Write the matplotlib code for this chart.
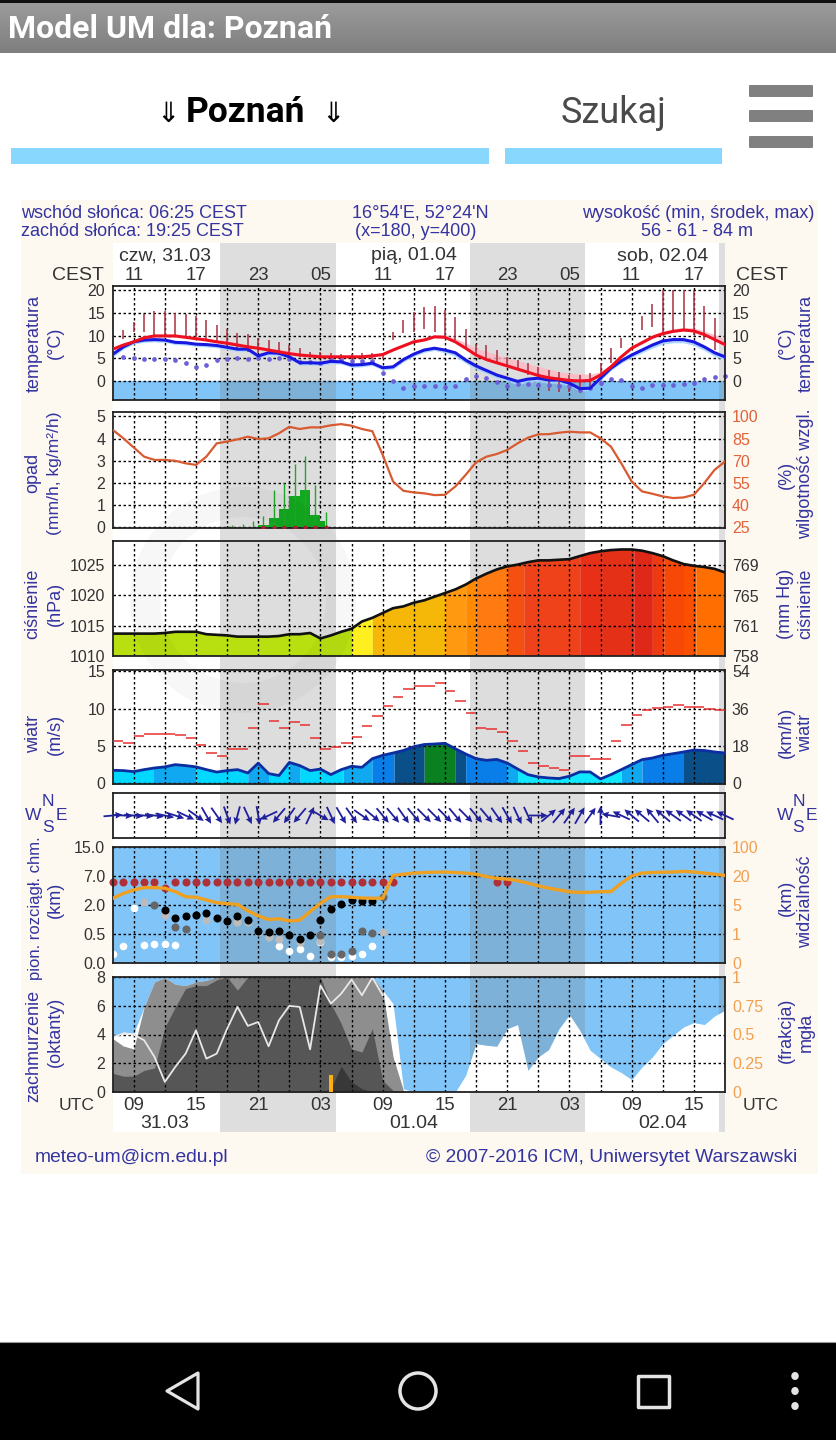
import numpy as np
import matplotlib
matplotlib.use('Agg')
import matplotlib.pyplot as plt
from matplotlib.patches import Rectangle, Polygon, Ellipse, FancyBboxPatch, Wedge

plt.rcParams['font.family'] = ['Liberation Sans', 'DejaVu Sans']

# godziny od 31.03 00 UTC
hours = np.arange(7, 67)
band_start = [17.3, 41.4, 65.4]
band_end = [28.5, 52.5, 66.0]
grid_hours = np.arange(9, 67, 3)
tick_hours = np.arange(9, 64, 6)
cest_labels = ['11', '17', '23', '05', '11', '17', '23', '05', '11', '17']
utc_labels = ['09', '15', '21', '03', '09', '15', '21', '03', '09', '15']
day_hours = [12, 36, 60]
top_days = ['czw, 31.03', 'pią, 01.04', 'sob, 02.04']
bottom_days = ['31.03', '01.04', '02.04']

# temperatura
temp_red = [7, 7.9, 8.6, 9.5, 9.9, 9.9, 9.9, 9.6, 9.3, 9.0, 8.6, 8.3, 7.9, 7.5, 7.2, 6.8, 6.4, 6.0, 5.7, 5.5,
            5.3, 5.3, 5.3, 5.3, 5.3, 5.5, 5.8, 6.8, 7.7, 8.6, 9, 9.7, 9.6, 8.6, 7.2, 5.7, 4.7, 4.0, 3.3, 2.6,
            1.9, 1.2, .7, .4, .1, 0, .1, 1.3, 3.1, 5.3, 7.2, 8.4, 9.6, 10.4, 10.9, 11.2, 11, 10.2, 9.1, 8]
temp_red_hi = [7.4, 8.3, 9.0, 9.9, 10.3, 10.3, 10.3, 10, 9.7, 9.4, 9.0, 8.8, 8.4, 8, 7.7, 7.3, 7, 6.6, 6.2, 6,
               5.8, 5.8, 5.8, 5.8, 5.8, 6, 6.3, 7.3, 8.2, 9.1, 9.5, 10.2, 10.2, 9.4, 8.4, 7.2, 6.5, 5.8, 5.1, 4.5,
               3.8, 3.2, 2.6, 2, 1.7, 1.6, 1.5, 2, 3.6, 5.8, 7.7, 9, 10.2, 11, 11.5, 11.8, 11.7, 11, 10.2, 9.2]
temp_blue = [5.9, 7.5, 8.6, 9, 9.1, 9, 8.5, 8.4, 8.1, 8, 7.8, 7.4, 7, 7, 5.5, 6.2, 6.1, 5.3, 4, 4,
             3.9, 4.3, 4.2, 3.5, 3.6, 3.9, 2.9, 3.1, 4.7, 5.9, 6.8, 7.2, 6.8, 6.2, 4.6, 3.3, 2.3, 1.3, .6, -.1,
             .4, .6, .2, .2, -.5, -1.7, -1.6, .6, 2.8, 4.4, 5.7, 6.8, 7.9, 8.8, 9.1, 9.1, 8.6, 7.5, 6.2, 5.3]
temp_blue_lo = [5.3, 7, 8.1, 8.5, 8.6, 8.5, 8, 7.9, 7.6, 7.5, 7.3, 6.9, 6.5, 6.5, 5, 5.7, 5.6, 4.8, 3.5, 3.5,
                3.4, 3.8, 3.7, 3, 3.1, 3.4, 2.4, 2.6, 4.2, 5.4, 6.3, 6.7, 6.2, 5.4, 3.9, 2.6, 1.6, .6, -.1, -.8,
                -.3, -.2, -.5, -.5, -1.1, -2.2, -2.1, .1, 2.3, 3.9, 5.2, 6.2, 7.2, 8.1, 8.4, 8.4, 7.8, 6.7, 5.4, 4.6]
stick_hi = [np.nan, 11.2, 13.0, 14.8, 15.3, 15.3, 15.0, 14.8, 14.2, 13.4, 12.3, 11.5, 10.6, 10.3, 9.4, 9.0, 8.6, 7.9, 7.2, 6.4,
            6.4, 6.1, 5.9, 5.9, 6.2, 6.2, 5.7, 10.8, 13.4, 15.2, 16.3, 16.6, 15.7, 14.1, 11.5, 8.2, 7.9, 6.8, 5.3, 4.6,
            3.9, 3.1, 2.3, 2.0, 1.3, 1.3, 1.7, 3.9, 7.2, 9.4, np.nan, 14.4, 17, 20, 20.1, 20.1, 19.9, 16.5, 13.8, np.nan]
stick_lo = [np.nan, 9.3, 10.8, 10.8, 9.7, 9.7, 9.7, 9.7, 9.7, 9, 8.6, 7.5, 6.8, 6.4, 6.1, 6.1, 5.7, 5.5, 5.3, 5.3,
            5.3, 5.3, 5.3, 4.8, 4.8, 4.8, 4.8, 9, 10.5, 10.8, 11.4, 10.8, 10, 9, 7, 5.4, 4.6, 3.9, 3.1, 2.4,
            1.3, .6, -2.3, -2.5, -2.5, -2.7, -2, 1.7, 3.9, 7.2, np.nan, 11.2, 11.9, 10.4, 11.2, 11.2, 10.2, 9.1, 6.8, np.nan]
temp_dots = [np.nan, 5.3, 5.1, 4.9, 4.9, 4.9, 4.7, 3.9, 3.1, 3.4, 4.7, 4.9, 5.1, 4.9, 5.1, 4.9, 5.1, 4.9, 4.2, 4.2,
             3.9, 4.5, 4.7, 4.3, 4.3, 4.4, 1.7, -.1, -1.6, -1.1, -1.1, -1.1, -1.4, -1.1, .4, 1.1, .7, -.2, -1.1, -.7,
             -.7, -.9, -.9, -1.2, -1.2, -2, -1.6, -.5, .4, .2, -1.2, -1.6, -.9, -.9, -.9, -.7, -.4, .4, .9, 1.1]
temp_ticks = [0, 5, 10, 15, 20]

# opad i wilgotnosc
rain_hours = [21, 22, 23, 24, 25, 26, 27]
rain_bars = [.12, .42, .82, 1.42, 1.7, .57, .27]
rain_widths = [1, 1, 1, 1, 1, 1, .4]
rain_stick_hours = [18, 19, 20, 21, 22, 23, 24, 25, 26, 27]
rain_sticks = [.1, .15, .3, .5, 1.7, 2.0, 2.85, 3.2, 1.9, .7]
humidity = [90.8, 85.2, 79, 72.8, 70.6, 70.6, 70, 68.3, 67.2, 72.8, 81.8, 83, 84.5, 86.3, 84.7, 85.2, 88.6, 93, 91.5, 92.6,
            92.6, 94, 94.8, 93.7, 91.5, 90, 74, 56, 49.7, 48.6, 48, 46.8, 47, 52.6, 60.5, 69, 72.8, 74.6, 77.3, 81.8,
            85.6, 87.9, 88, 89, 89.7, 89.2, 89.2, 85.2, 79.6, 68.3, 56, 49.3, 47.7, 45.9, 44.8, 45.2, 47, 54.9, 63.9, 69.5]

# cisnienie
pressure = [1013.7, 1013.7, 1013.7, 1013.7, 1013.7, 1013.8, 1014, 1014, 1014, 1013.6, 1013.5, 1013.4, 1013.2, 1013.2, 1013.2,
            1013.2, 1013.3, 1013.6, 1013.6, 1013.8, 1012.9, 1013.4, 1014, 1014.5, 1015.7, 1016.3, 1017.1, 1017.9, 1018.2, 1018.8,
            1019.2, 1019.8, 1020.4, 1021, 1021.8, 1022.8, 1023.6, 1024.3, 1024.8, 1025.1, 1025.5, 1025.8, 1025.8, 1025.9, 1026,
            1026.5, 1027, 1027.3, 1027.5, 1027.6, 1027.6, 1027.4, 1027, 1026.5, 1025.8, 1025.2, 1024.9, 1024.7, 1024.4, 1023.8]
pressure_breaks = [7, 30, 32, 39, 41, 42, 45, 46.6, 52, 54.1, 57.2, 59, 60.1, 62, 63.2, 66]
pressure_colors = ['#b8e010', '#ffee20', '#f6b808', '#ff9a10', '#ff8a00', '#ff7a10', '#f55010', '#f0421a',
                   '#e83018', '#e53018', '#e02818', '#ee3a10', '#f84808', '#fa5000', '#ff6e00']
hg_ticks = [757.6, 761.3, 765, 768.8]
hg_labels = ['758', '761', '765', '769']

# wiatr
wind = [1.74, 1.7, 1.56, 1.83, 2.05, 2.2, 2.5, 2.37, 2.2, 1.83, 1.5, 1.7, 1.83, 1.38, 2.7, 1.3, 1.03, 2.8, 2.37, 1.7,
        1.9, 1.16, 1.83, 2.28, 2.14, 3.3, 3.75, 4.06, 4.4, 4.9, 5.2, 5.27, 5.36, 4.64, 3.93, 3.3, 3.08, 3.2, 2.72, 1.92,
        1.16, .85, .71, .63, .94, 1.52, 1.52, .58, 1.16, 1.83, 2.5, 3.17, 3.39, 3.75, 3.97, 4.2, 4.46, 4.4, 4.2, 4.06]
gust = [5.67, 5.45, 6.38, 6.6, 6.65, 6.65, 6.47, 6.07, 5.2, 4.06, 3.66, 4.64, 4.64, 7.4, 10.6, 8.4, 7.4, 8.2, 7.8, 6.07,
        4.64, 4.82, 5.45, 6.25, 7.63, 8.97, 10.4, 11.56, 12.6, 13, 13.1, 13.4, 12.4, 11, 9.4, 7.46, 7.28, 6.83, 5.63, 4.29,
        2.68, 2.32, 2.1, 1.83, 3.7, 3.7, 3.26, 3.26, 5.63, 7.86, 9.2, 9.82, 10.1, 10.3, 10.5, 10.2, 10.2, 10, 9.8]
wind_breaks = [7, 10.9, 15, 20, 22, 24, 25, 29.2, 32, 34.1, 37, 40, 41, 45, 46, 56, 58, 62, 66]
wind_colors = ['#00d8ff', '#10a8f0', '#00d8ff', '#10a8f0', '#00d8ff', '#10a8f0', '#00d8ff', '#10a8f0', '#0a7ee8',
               '#0a4f88', '#0a8020', '#0a4f88', '#0a7ee8', '#10a8f0', '#10e8ff', '#10a8f0', '#0a7ee8', '#0a4f88']
wind_dir = [5, -3, -5, -5, -8, -12, -18, -25, -35, -60, -55, -70, -105, -65, -80, -155, -130, -125, -130, 65,
            -30, -65, -60, -55, -35, -40, -50, -50, -55, -50, -45, -45, -45, -50, -45, -50, -50, -55, -60, -65,
            -65, 0, 40, 50, 55, 60, 55, 90, 170, 155, 140, 140, 130, 140, 145, 145, 145, 150, 155, 155]

# podstawa chmur i widzialnosc
height_ticks = [0, .5, 2, 7, 15]
vis_ticks = [0, 1, 5, 20, 100]
red_dot_hours = [7, 8, 9, 10, 11, 12, 13, 14, 15, 16, 17, 18, 19, 20, 21, 22, 23, 24, 25, 26, 27, 28, 29, 30, 31, 32, 33, 34, 44, 45]
red_dot_km = [5.95, 5.95, 5.95, 5.95, 5.95, 5.0, 5.95, 5.95, 5.95, 5.95, 5.95, 5.95, 5.95, 5.95, 5.95,
              5.95, 5.95, 5.95, 5.95, 5.95, 5.95, 5.95, 5.95, 5.95, 5.95, 5.95, 5.95, 5.95, 5.95, 5.95]
white_hours = [7, 8, 9, 10, 11, 12, 13, 23, 24, 25, 26, 27, 28, 29, 30, 31, 32]
white_km = [.16, .3, 1.86, .31, .33, .33, .31, .3, .2, .25, .115, .36, .1, .1, .115, .16, .29]
light_hours = [10, 12, 16, 19, 20, 21, 22, 23, 25, 27, 33]
light_km = [2.46, 1.5, 1.25, 1.1, 1.1, .62, .45, .42, .36, .38, .62]
gray_hours = [11, 13, 14, 15, 27, 28, 29, 30, 31, 32, 33]
gray_km = [2.05, .84, .75, 1.48, .49, .16, .16, .2, .66, .56, 3.35]
black_hours = [12, 13, 14, 15, 16, 17, 18, 19, 20, 21, 22, 23, 24, 25, 26, 27, 28, 29, 30, 31, 32]
black_km = [1.74, 1.32, 1.45, 1.48, 1.57, 1.31, 1.19, 1.45, 1.2, .68, .58, .66, .49, .42, .49, 1.22, 1.78, 2.16, 2.87, 2.7, 2.7]
visibility = [8.5, 11, 12.8, 14, 14, 13.7, 11.9, 9.3, 9, 7.6, 6.2, 5.7, 5.3, 4.2, 3.5, 3.0, 3.1, 2.8, 2.9, 4.1,
              5.9, 9.3, 9.3, 9, 8.6, 8.5, 8.5, 21.6, 25, 28, 29.6, 30.4, 31, 29.6, 28, 25, 19.7, 18.8, 18.4, 17.6,
              16.3, 14.9, 13.7, 12.8, 11.8, 11.5, 11.6, 11.9, 11.9, 16.3, 20, 28, 29.6, 30.4, 31, 32.8, 31, 28, 25, 21.6]

# zachmurzenie
cloud_white = [3.83, 4.18, 4.1, 5.9, 7.66, 7.96, 7.5, 7.4, 7.66, 7.77, 8, 8, 8, 8, 8, 8, 8, 8, 8, 8,
               8, 8, 8, 8, 8, 8, 7.08, 6.15, .23, 0, 0, 0, 0, 0, 1.16, 3.36, 3.25, 3.18, 4.4, 4.69,
               1.5, 2.44, 2.95, 4.4, 5.38, 4.29, 2.9, 2.32, 1.74, 1.35, .86, 1.74, 2.44, 3.36, 3.94, 4.52, 4.83, 4.69, 5.29, 5.68]
cloud_high = [3.7, 3.2, 3.0, 5.9, 7.66, 7.96, 7.5, 7.4, 7.66, 7.77, 8, 8, 8, 8, 8, 8, 8, 8, 8, 8,
              8, 8, 8, 8, 8, 8, 7.08, 2.44, .1, 0, 0, 0, 0, 0, 0, 0, 0, 0, 0, 0,
              0, 0, 0, 0, 0, 0, 0, 0, 0, 0, 0, 0, 0, 0, 0, 0, 0, 0, 0, 0]
cloud_mid = [1.3, 1.1, 1.1, 1.5, 1.67, 4.5, 5.9, 7.2, 7.4, 7.4, 7.8, 8, 7.08, 8, 8, 8, 8, 8, 8, 8,
             8, 6.15, 4.76, 3.0, 2.78, 4.4, .8, .1, 0, 0, 0, 0, 0, 0, 0, 0, 0, 0, 0, 0,
             0, 0, 0, 0, 0, 0, 0, 0, 0, 0, 0, 0, 0, 0, 0, 0, 0, 0, 0, 0]
cloud_low_hours = [27, 28, 29, 30, 31, 32]
cloud_low = [0, .23, 1.79, .7, .23, 0]
cloud_line_hours = np.arange(7, 34)
cloud_line = [3.83, 4.06, 3.99, 3.6, 2.44, .7, 1.74, 2.67, 4.29, 2.32, 2.67, 4.4, 5.92, 4.6, 4.87, 3.18, 4.99, 5.99,
              5.92, 2.97, 7.42, 6.15, 6.84, 7.82, 6.73, 7.96, 6.73]
sun_hour = [28]
sun_bar = [1.16]

NAVY = '#3434a0'
TICK = '#333333'
ORANGE = '#f2a050'
RH_RED = '#e2623a'
SKY = '#80c4f8'
BAND = '#dedede'
ROBOTO = ['Roboto', 'DejaVu Sans']

fig = plt.figure(figsize=(8.36, 14.4), dpi=100, facecolor='white')


def pixel_axes(left, top, right, bottom, **kw):
    return fig.add_axes([left / 836, 1 - bottom / 1440, (right - left) / 836, (bottom - top) / 1440], **kw)


# strona w pikselach
page = pixel_axes(0, 0, 836, 1440, zorder=-2)
page.axis('off')
page.imshow(np.linspace(0, 1, 64).reshape(-1, 1),
            cmap=matplotlib.colors.LinearSegmentedColormap.from_list('bar', ['#9c9c9c', '#7e7e7e']),
            extent=(0, 836, 53, 2), aspect='auto')
page.set_xlim(0, 836)
page.set_ylim(1440, 0)
page.add_patch(Rectangle((0, 0), 836, 3, color='#111111', lw=0))
page.text(8, 29.5, 'Model UM dla: Poznań', color='white', fontsize=23, fontweight='bold', family=ROBOTO, va='center', ha='left')
page.text(246, 113, 'Poznań', color='black', fontsize=25.5, fontweight='bold', family=ROBOTO, va='center', ha='center')
page.text(168, 114, '⇓', color='black', fontsize=20, family='DejaVu Sans', va='center', ha='center')
page.text(333, 114, '⇓', color='black', fontsize=20, family='DejaVu Sans', va='center', ha='center')
page.text(613, 113, 'Szukaj', color='#4a4a4a', fontsize=26, family=ROBOTO, va='center', ha='center')
page.add_patch(Rectangle((11, 148), 478, 16, color='#87d7ff', lw=0))
page.add_patch(Rectangle((505, 148), 217, 16, color='#87d7ff', lw=0))
for y in [85, 110, 136]:
    page.add_patch(FancyBboxPatch((750, y + 1), 62, 10, boxstyle='round,pad=1', color='#808080', lw=0))

page.add_patch(Rectangle((21, 200), 797, 974, color='#fdf8f0', lw=0))

page.add_patch(Rectangle((0, 1342), 836, 98, color='black', lw=0))
page.plot([0, 836], [1342, 1342], color='#999999', lw=0.8)
page.add_patch(Polygon([(167, 1391), (198, 1373), (198, 1409)], closed=True, fc='none', ec='#e4e4e4', lw=2.3, joinstyle='round'))
page.add_patch(Ellipse((418, 1391), 36, 36, fc='none', ec='#e4e4e4', lw=2.5))
page.add_patch(Rectangle((638, 1376), 31, 31, fc='none', ec='#e4e4e4', lw=2.5, joinstyle='round'))
for y in [1376, 1391, 1406]:
    page.add_patch(Ellipse((795, y), 7.5, 8, color='#e4e4e4', lw=0))

head_size = 13
foot_size = 13.9
page.text(21, 213, 'wschód słońca: 06:25 CEST', color=NAVY, fontsize=head_size, va='center')
page.text(21, 232, 'zachód słońca: 19:25 CEST', color=NAVY, fontsize=head_size, va='center')
page.text(420, 213, "16°54'E, 52°24'N", color=NAVY, fontsize=head_size, va='center', ha='center')
page.text(416, 231, '(x=180, y=400)', color=NAVY, fontsize=head_size, va='center', ha='center')
page.text(814, 213, 'wysokość (min, środek, max)', color=NAVY, fontsize=head_size, va='center', ha='right')
page.text(697, 232, '56 - 61 - 84 m', color=NAVY, fontsize=head_size, va='center', ha='center')
page.text(35, 1158, 'meteo-um@icm.edu.pl', color=NAVY, fontsize=foot_size, va='center')
page.text(797, 1158, '© 2007-2016 ICM, Uniwersytet Warszawski', color=NAVY, fontsize=foot_size, va='center', ha='right')

page.text(104, 275, 'CEST', color=TICK, fontsize=14, va='center', ha='right')
page.text(736, 275, 'CEST', color=TICK, fontsize=14, va='center', ha='left')
page.text(95, 1105, 'UTC', color=TICK, fontsize=12.6, va='center', ha='right')
page.text(743, 1105, 'UTC', color=TICK, fontsize=12.6, va='center', ha='left')

side_labels = [
    (34, 343, 'temperatura', 13), (55, 343, '(°C)', 13), (786, 343, '(°C)', 13), (806, 343, 'temperatura', 13),
    (33, 473, 'opad', 13), (55, 473, '(mm/h, kg/m²/h)', 12.6), (786, 475, '(%)', 13), (806, 474, 'wilgotność wzgl.', 13),
    (33, 604, 'ciśnienie', 13), (55, 604, '(hPa)', 13), (786, 604, '(mm Hg)', 13), (806, 604, 'ciśnienie', 13),
    (34, 734, 'wiatr', 13), (55, 734, '(m/s)', 13), (786, 732, '(km/h)', 13), (806, 733, 'wiatr', 13),
    (36, 908, 'pion. rozciągł. chm.', 12), (55, 900, '(km)', 13), (786, 898, '(km)', 13), (806, 902, 'widzialność', 13),
    (34, 1046, 'zachmurzenie', 13), (55, 1032, '(oktanty)', 13), (786, 1030, '(frakcja)', 13), (806, 1032, 'mgła', 13),
]
for x, y, label, size in side_labels:
    page.text(x, y, label, color=NAVY, fontsize=size, rotation=90, va='center', ha='center')

for x, y, letter in [(33, 815, 'W'), (48, 801, 'N'), (61, 815, 'E'), (48, 828, 'S'),
                     (785, 815, 'W'), (799, 801, 'N'), (811, 815, 'E'), (798, 828, 'S')]:
    page.text(x, y, letter, color=NAVY, fontsize=12.5, va='center', ha='center')

# pasek tla z noca i opisami godzin
strip = pixel_axes(113, 243, 725, 1132, zorder=-1)
strip.set_xlim(7, 66)
strip.set_ylim(1132, 243)
strip.axis('off')
strip.add_patch(Rectangle((7, 243), 59, 889, color='white', lw=0))
for s, e in zip(band_start, band_end):
    strip.axvspan(s, e, color=BAND, lw=0)
for h, c, u in zip(tick_hours, cest_labels, utc_labels):
    strip.text(h, 275, c, color=TICK, fontsize=13.4, va='center', ha='center')
    strip.text(h, 1105, u, color=TICK, fontsize=13.4, va='center', ha='center')
for h, t, b in zip(day_hours, top_days, bottom_days):
    strip.text(h, 256, t, color=TICK, fontsize=14, va='center', ha='center')
    strip.text(h, 1124, b, color=TICK, fontsize=14, va='center', ha='center')


def make_panel(top, bottom, ylim, ticks=None, labels=None, color='white'):
    ax = pixel_axes(113, top, 725, bottom)
    ax.set_facecolor(color)
    ax.set_xlim(7, 66)
    ax.set_xticks(grid_hours)
    ax.set_xticklabels([])
    ax.set_ylim(*ylim)
    if ticks is not None:
        ax.set_yticks(ticks, labels=labels if labels else [str(t) for t in ticks])
        ax.grid(True, axis='y', color='black', lw=1.0, ls=(0, (1.8, 1.8)))
    else:
        ax.set_yticks([])
    ax.grid(True, axis='x', color='black', lw=1.0, ls=(0, (1.8, 1.8)))
    ax.tick_params(length=0)
    ax.tick_params(axis='y', labelsize=11.5, labelcolor=TICK, pad=5.5)
    for s in ax.spines.values():
        s.set_linewidth(1.3)
        s.set_color('#222222')
    # noc: pod wypelnieniami, widoczna tylko na bieli i blekicie
    for s, e in zip(band_start, band_end):
        ax.axvspan(s, e, color='#7b7b7b', alpha=0.25, lw=0, zorder=0.5)
    return ax


def right_axis(ax, ylim, ticks, labels=None, color=TICK):
    tw = ax.twinx()
    tw.set_ylim(*ylim)
    tw.set_yticks(ticks, labels=labels if labels else [str(t) for t in ticks])
    tw.tick_params(length=0, labelsize=11.5, labelcolor=color, pad=5)
    for s in tw.spines.values():
        s.set_visible(False)
    return tw


def fill_segments(ax, breaks, colors, values, base):
    for a, b, col in zip(breaks[:-1], breaks[1:], colors):
        inner = hours[(hours > a) & (hours < b)]
        xs = np.r_[a, inner, b]
        ax.fill_between(xs, np.interp(xs, hours, values), base, color=col, lw=0)


# temperatura
temp_lim = (-4.2, 20.9)
ax = make_panel(286, 400, temp_lim, temp_ticks)
right_axis(ax, temp_lim, temp_ticks)
ax.fill_between([7, 66], temp_lim[0], 0, color=SKY, lw=0, zorder=0.4)
ax.fill_between(hours, temp_red, temp_red_hi, color='#ffb8c4', alpha=0.8, lw=0, zorder=1.6)
ax.fill_between(hours, temp_blue_lo, temp_blue, color='#a8d4ff', alpha=0.9, lw=0, zorder=1.6)
ax.vlines(hours, stick_lo, stick_hi, color='#a83040', lw=1.1, zorder=2)
ax.plot(hours, temp_dots, 'o', color='#6a60d8', ms=3.4, mew=0, zorder=2, clip_on=False)
ax.plot(hours, temp_blue, color='#1818e0', lw=2.2, zorder=3)
ax.plot(hours, temp_red, color='#ee1020', lw=2.2, zorder=3)

# opad
rain_lim = (-0.03, 5.2)
ax = make_panel(412, 528, rain_lim, [0, 1, 2, 3, 4, 5])
right_axis(ax, (25 + 15 * rain_lim[0], 25 + 15 * rain_lim[1]), [25, 40, 55, 70, 85, 100], color=RH_RED).plot(
    hours, humidity, color='#d85a30', lw=1.6)
ax.bar(rain_hours, rain_bars, width=rain_widths, align='edge', color='#12a820', lw=0, zorder=1.7)
ax.vlines(np.array(rain_stick_hours) + 0.5, 0, rain_sticks, color='#22a82a', lw=1.0, zorder=1.8)
ax.plot(np.array(rain_hours) + 0.5, np.zeros(len(rain_hours)), 'o', color='#b02030', ms=2.8, mew=0, zorder=3)

# cisnienie
press_lim = (1010.1, 1029.0)
ax = make_panel(541, 656, press_lim, [1010, 1015, 1020, 1025])
right_axis(ax, (press_lim[0] * 0.75006, press_lim[1] * 0.75006), hg_ticks, hg_labels)
fill_segments(ax, pressure_breaks, pressure_colors, pressure, press_lim[0])
ax.plot(hours, pressure, color='#111111', lw=1.9, zorder=3)

# wiatr
wind_lim = (-0.1, 15.2)
ax = make_panel(670, 784, wind_lim, [0, 5, 10, 15])
right_axis(ax, (wind_lim[0] * 3.6, wind_lim[1] * 3.6), [0, 18, 36, 54])
fill_segments(ax, wind_breaks, wind_colors, wind, wind_lim[0])
ax.plot(hours, wind, color='#0c2ea0', lw=2.0, zorder=3)
ax.hlines(gust, hours[:-1], hours[1:], color='#e83030', lw=1.1, zorder=3)

# kierunek wiatru
ax = make_panel(793, 838, (0, 1))
rad = np.deg2rad(wind_dir)
ax.quiver(hours, np.full(len(hours), 0.5), 19 * np.cos(rad), 19 * np.sin(rad), angles='uv', units='dots', scale_units='dots',
          scale=1, pivot='mid', width=1.8, headwidth=3.8, headlength=4, headaxislength=3.6, color='#20209c', zorder=3, clip_on=False)


def height_fwd(v):
    return np.interp(v, height_ticks, [0, 1, 2, 3, 4])


def height_inv(p):
    return np.interp(p, [0, 1, 2, 3, 4], height_ticks)


def vis_fwd(v):
    return np.interp(v, vis_ticks, [0, 1, 2, 3, 4])


def vis_inv(p):
    return np.interp(p, [0, 1, 2, 3, 4], vis_ticks)


# podstawa chmur, widzialnosc
ax = make_panel(847, 963, (0, 15), None, None, SKY)
ax.set_yscale('function', functions=(height_fwd, height_inv))
ax.set_ylim(0, 15)
ax.set_yticks(height_ticks, labels=['0.0', '0.5', '2.0', '7.0', '15.0'])
ax.minorticks_off()
ax.grid(True, axis='y', color='black', lw=1.0, ls=(0, (1.8, 1.8)))
ax.tick_params(axis='y', length=0, labelsize=11.5, labelcolor=TICK, pad=5.5)
ax.plot(white_hours, white_km, 'o', color='white', ms=5.5, mew=0, zorder=2, clip_on=False)
ax.plot(light_hours, light_km, 'o', color='#bcbcbc', ms=5.8, mew=0, zorder=2.1)
ax.plot(gray_hours, gray_km, 'o', color='#666666', ms=5.8, mew=0, zorder=2.2)
ax.plot(black_hours, black_km, 'o', color='black', ms=5.8, mew=0, zorder=2.3)
ax.plot(red_dot_hours, red_dot_km, 'o', color='#b03038', ms=5.8, mew=0, zorder=2.4, clip_on=False)
tw = ax.twinx()
tw.set_yscale('function', functions=(vis_fwd, vis_inv))
tw.set_ylim(0, 100)
tw.set_yticks(vis_ticks, labels=[str(v) for v in vis_ticks])
tw.minorticks_off()
tw.tick_params(length=0, labelsize=11.5, labelcolor=ORANGE, pad=5)
for s in tw.spines.values():
    s.set_visible(False)
tw.plot(hours, visibility, color='#f0a020', lw=2.4)

# zachmurzenie
ax = make_panel(977, 1092, (0, 8), [0, 2, 4, 6, 8], None, SKY)
tw = right_axis(ax, (0, 1), [0, .25, .5, .75, 1], ['0', '0.25', '0.5', '0.75', '1'], color=ORANGE)
ax.fill_between(hours, 0, cloud_white, color='white', lw=0, zorder=1.0)
ax.fill_between(hours, 0, cloud_high, color='#8e8e8e', lw=0, zorder=1.3)
ax.fill_between(hours, 0, cloud_mid, color='#565656', lw=0, zorder=1.35)
ax.fill_between(cloud_low_hours, 0, cloud_low, color='#383838', lw=0, zorder=1.4)
ax.plot(cloud_line_hours, cloud_line, color='#e8e8e8', lw=1.3, zorder=2)
ax.bar(sun_hour, sun_bar, width=0.35, color='#ffb010', lw=0, zorder=3)

# znak wodny ICM
overlay = pixel_axes(0, 0, 836, 1440, zorder=10)
overlay.patch.set_alpha(0)
overlay.set_xlim(0, 836)
overlay.set_ylim(1440, 0)
overlay.axis('off')
overlay.add_patch(Wedge((243, 600), 113, 0, 360, width=30, color='black', alpha=0.03, lw=0))

fig.savefig('out.png', dpi=100)
